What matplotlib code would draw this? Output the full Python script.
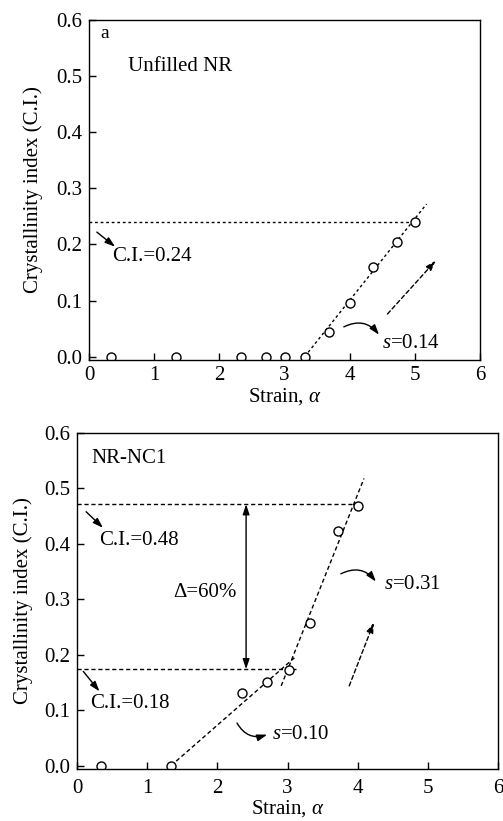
import matplotlib
matplotlib.use("Agg")
import matplotlib.pyplot as plt
from matplotlib.patches import FancyArrowPatch

plt.rcParams['font.family'] = ['Liberation Serif', 'DejaVu Serif']
plt.rcParams['mathtext.fontset'] = 'custom'
plt.rcParams['mathtext.rm'] = 'Liberation Serif'
plt.rcParams['mathtext.it'] = 'Liberation Serif:italic'

# Panel a: unfilled NR
strain_a = [0.34, 1.34, 2.34, 2.71, 3.0, 3.31, 3.68, 4.0, 4.36, 4.72, 5.0]
ci_a = [0.0, 0.0, 0.0, 0.0, 0.0, 0.0, 0.044, 0.095, 0.159, 0.205, 0.24]
fit_a_x = [3.31, 5.18]
fit_a_y = [0.0, 0.272]
ci_max_a = 0.24

# Panel b: NR-NC1
strain_b = [0.34, 1.34, 2.35, 2.71, 3.02, 3.32, 3.72, 4.0]
ci_b = [0.0, 0.0, 0.131, 0.151, 0.173, 0.258, 0.424, 0.468]
fit_b1_x = [1.34, 3.12]
fit_b1_y = [0.0, 0.197]
fit_b2_x = [2.91, 4.09]
fit_b2_y = [0.144, 0.518]
ci_lo_b = 0.174
ci_hi_b = 0.4715

xticks = [0, 1, 2, 3, 4, 5, 6]
yticks = [0.0, 0.1, 0.2, 0.3, 0.4, 0.5, 0.6]

FS = 15
fig = plt.figure(figsize=(5.03, 8.21), dpi=100)
ax1 = fig.add_axes([89/503, 1-360/821, (480-89)/503, (360-20)/821])
ax2 = fig.add_axes([77/503, 1-769/821, (498-77)/503, (769-433)/821])

dash = (0, (3, 2))
AST = '-|>,head_length=0.6,head_width=0.2'

def style(ax, xpad, ylabelpad, xlabelpad):
    ax.set_xlim(0, 6)
    ax.set_ylim(-0.006, 0.6)
    ax.set_xticks(xticks)
    ax.set_yticks(yticks)
    ax.set_xticklabels([str(t) for t in xticks])
    ax.set_yticklabels([f"{t:.1f}" for t in yticks])
    ax.tick_params(direction='in', length=5, width=1, labelsize=FS,
                   top=False, right=False)
    ax.tick_params(axis='x', pad=xpad)
    ax.tick_params(axis='y', pad=5)
    for s in ax.spines.values():
        s.set_linewidth(1)
    ax.set_xlabel(r"Strain, $\alpha$", fontsize=FS, labelpad=xlabelpad)
    ax.set_ylabel("Crystallinity index (C.I.)", fontsize=FS, labelpad=ylabelpad)

def arrow(ax, p0, p1, rad=0.0, ls='-'):
    a = FancyArrowPatch(p0, p1, arrowstyle=AST, mutation_scale=10,
                        connectionstyle=f"arc3,rad={rad}", color='black',
                        lw=1, linestyle=ls, shrinkA=0, shrinkB=0)
    ax.add_patch(a)

# ---- Panel a
style(ax1, 4, 9, 1)
ax1.plot(fit_a_x, fit_a_y, color='black', lw=1, linestyle=(0, (2, 2)))
ax1.plot([0, strain_a[-1]], [ci_max_a, ci_max_a], color='black', lw=1, linestyle=(0, (2, 2)))
ax1.plot(strain_a, ci_a, 'o', mfc='white', mec='black', ms=6.5, mew=1)
ax1.text(0.17, 0.576, "a", fontsize=FS-1, va='center', ha='left')
ax1.text(0.6, 0.517, "Unfilled NR", fontsize=FS, va='center', ha='left')
ax1.text(0.35, 0.178, "C.I.=0.24", fontsize=FS, va='center', ha='left')
arrow(ax1, (0.12, 0.222), (0.40, 0.196))
ax1.text(4.5, 0.024, r"$s$=0.14", fontsize=FS, va='center', ha='left')
arrow(ax1, (3.91, 0.053), (4.45, 0.039), rad=-0.4)
arrow(ax1, (4.58, 0.076), (5.32, 0.171), ls=(0, (3, 2)))

# ---- Panel b
style(ax2, 7, 8, 0)
ax2.plot(fit_b1_x, fit_b1_y, color='black', lw=1, linestyle=dash)
ax2.plot(fit_b2_x, fit_b2_y, color='black', lw=1, linestyle=dash)
ax2.plot([0, 3.97], [ci_hi_b, ci_hi_b], color='black', lw=1, linestyle=dash)
ax2.plot([0, 3.12], [ci_lo_b, ci_lo_b], color='black', lw=1, linestyle=dash)
ax2.plot(strain_b, ci_b, 'o', mfc='white', mec='black', ms=6.5, mew=1)
ax2.annotate("", xy=(2.41, ci_hi_b), xytext=(2.41, ci_lo_b),
             arrowprops=dict(arrowstyle='<|-|>,head_length=0.6,head_width=0.2',
                             color='black', lw=1,
                             mutation_scale=10, shrinkA=0, shrinkB=0))
ax2.text(2.28, 0.312, "Δ=60%", fontsize=FS, va='center', ha='right')
ax2.text(0.21, 0.554, "NR-NC1", fontsize=FS, va='center', ha='left')
ax2.text(0.32, 0.407, "C.I.=0.48", fontsize=FS, va='center', ha='left')
arrow(ax2, (0.13, 0.458), (0.37, 0.429))
ax2.text(0.18, 0.113, "C.I.=0.18", fontsize=FS, va='center', ha='left')
arrow(ax2, (0.09, 0.17), (0.32, 0.134))
ax2.text(4.37, 0.326, r"$s$=0.31", fontsize=FS, va='center', ha='left')
arrow(ax2, (3.76, 0.346), (4.26, 0.332), rad=-0.4)
ax2.text(2.78, 0.056, r"$s$=0.10", fontsize=FS, va='center', ha='left')
arrow(ax2, (2.28, 0.077), (2.71, 0.056), rad=0.4)
arrow(ax2, (3.88, 0.144), (4.23, 0.258), ls=(0, (3, 2)))

fig.savefig("out.png", dpi=100)
